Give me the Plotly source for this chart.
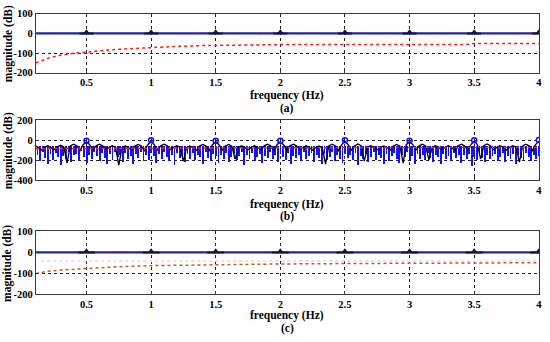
import numpy as np
import plotly.graph_objects as go

# ---------------- data ----------------
x_ticks = [0.5, 1, 1.5, 2, 2.5, 3, 3.5, 4]
x_ticktext = ["0.5", "1", "1.5", "2", "2.5", "3", "3.5", "4"]
ya_ticks = [-200, -100, 0, 100]
yb_ticks = [-400, -200, 0, 200]
yc_ticks = [-200, -100, 0, 100]

# panel (a)
a_base_f = [0.108, 4.0]
a_base_db = [0, 0]
a_peak_f = [0.5, 1.0, 1.5, 2.0, 2.5, 3.0, 3.5, 4.0]
a_peak_db = [6, 6, 6, 6, 6, 6, 6, 6]
a_red_f = [0.108, 0.15, 0.2, 0.25, 0.3, 0.4, 0.5, 0.6, 0.7, 0.8, 1.0, 1.2, 1.4, 1.6, 1.8, 2.0, 2.5, 3.0, 3.45, 3.5, 4.0]
a_red_db = [-150, -138, -127, -118, -111, -101, -94, -88, -83, -79, -72, -66, -62, -60, -58, -57, -56, -56, -56, -51, -51]

# panel (b)
b_env_f = np.round(np.arange(0.1, 4.0001, 0.025), 3)
b_env_db = [
    -55, -72, -100, -72, -55, -72, -95, -67, -50, -67, -230, -57, -40, -57, -105, -45,
    -15, -45, -100, -57, -40, -57, -95, -72, -55, -72, -250, -75, -58, -75, -100, -59, -42, -59, -110, -45,
    -12, -45, -100, -57, -40, -57, -95, -72, -55, -72, -210, -75, -58, -75, -100, -59, -42, -59, -105, -45,
    -15, -45, -100, -59, -42, -59, -190, -73, -56, -73, -95, -72, -55, -72, -100, -57, -40, -57, -105, -45,
    -14, -45, -100, -57, -40, -57, -95, -73, -56, -73, -100, -74, -57, -74, -240, -57, -40, -57, -105, -45,
    -10, -45, -100, -55, -38, -55, -210, -72, -55, -72, -95, -74, -57, -74, -100, -59, -42, -59, -230, -45,
    -12, -45, -100, -57, -40, -57, -200, -72, -55, -72, -95, -73, -56, -73, -105, -57, -40, -57, -100, -45,
    -10, -45, -190, -55, -38, -55, -95, -72, -55, -72, -100, -72, -55, -72, -220, -57, -40, -57, -105, -45,
    -10,
]
b_blue_f = np.round(np.arange(0.12, 4.0001, 0.02), 3)
b_blue_top = -62
b_blue_db = [
    -150, -210, -120, -180, -240, -140, -200, -130, -170, -250, -160, -190, -120, -220, -150,
    -140, -200, -110, -170, -230, -150, -190, -120, -160, -210, -130, -180, -240, -140, -200,
    -120, -170, -150, -220, -130, -190, -160, -240, -140, -180, -120, -210, -150, -200, -130,
    -160, -230, -140, -190, -120, -170, -210, -150, -250, -130, -180, -160, -220, -140, -190,
    -130, -200, -150, -170, -240, -120, -180, -210, -140, -160, -230, -150, -190, -130, -220,
    -170, -140, -200, -160, -120, -250, -150, -190, -130, -210, -170, -140, -230, -160, -180,
    -120, -190, -150, -220, -140, -170, -200, -130, -240, -160, -180, -150, -210, -120, -190,
    -160, -130, -220, -150, -180, -240, -140, -200, -170, -120, -210, -150, -190, -230, -140,
    -180, -150, -200, -130, -250, -160, -190, -140, -220, -170, -120, -200, -150, -180, -240,
    -140, -210, -160, -130, -190, -230, -150, -170, -120, -200, -160, -240, -140, -190, -150,
    -200, -130, -180, -220, -150, -170, -240, -140, -190, -160, -210, -130, -180, -150, -230,
    -150, -190, -140, -260, -170, -200, -130, -180, -220, -150, -190, -160, -140, -210, -170,
    -130, -220, -160, -190, -140, -240, -150, -180, -200, -130, -170, -210, -150, -190, -160,
]
b_peak_f = [0.5, 1.0, 1.5, 2.0, 2.5, 3.0, 3.5, 4.0]
b_peak_db = [-5, -2, -5, -5, 0, -5, 0, 2]
b_red_f = [0.108, 1.0, 2.0, 3.0, 4.0]
b_red_db = [-85, -78, -75, -74, -72]

# panel (c)
c_base_f = [0.108, 4.0]
c_base_db = [0, 0]
c_peak_f = [0.5, 1.0, 1.5, 2.0, 2.5, 3.0, 3.5, 4.0]
c_peak_db = [6, 6, 6, 6, 6, 6, 6, 6]
c_red_f = [0.108, 0.2, 0.3, 0.5, 0.75, 1.0, 1.5, 2.0, 2.5, 3.0, 3.5, 4.0]
c_red_db = [-100, -90, -84, -76, -68, -63, -58, -55, -53, -51, -50, -49]
c_pink_f = [0.15, 4.0]
c_pink_db = [-42, -40]

# ---------------- figure ----------------
W, H = 550, 342
fig = go.Figure()

NAVY = "#22229a"
DARK = "#141440"
FONT = "Liberation Serif, Times New Roman, serif"

# (a)
fig.add_trace(go.Scatter(x=a_red_f, y=a_red_db, mode="lines", line=dict(color="#ff1a1a", width=1.5, dash="dot"),
                         xaxis="x", yaxis="y", showlegend=False))
fig.add_trace(go.Scatter(x=a_base_f, y=a_base_db, mode="lines", line=dict(color=NAVY, width=2.2),
                         xaxis="x", yaxis="y", showlegend=False))
fig.add_trace(go.Scatter(x=a_peak_f, y=[0] * len(a_peak_f), mode="markers",
                         marker=dict(symbol="line-ew-open", size=10, color=DARK, line=dict(color=DARK, width=2)),
                         xaxis="x", yaxis="y", showlegend=False))
fig.add_trace(go.Scatter(x=a_peak_f, y=a_peak_db, mode="markers",
                         marker=dict(symbol="triangle-up", size=6, color=DARK),
                         xaxis="x", yaxis="y", showlegend=False))

# (b)
fig.add_trace(go.Bar(x=b_blue_f, y=[d - b_blue_top for d in b_blue_db], base=b_blue_top, width=0.007,
                     marker=dict(color="#1010ff", line=dict(width=0)),
                     xaxis="x2", yaxis="y2", showlegend=False))
fig.add_trace(go.Scatter(x=b_env_f, y=b_env_db, mode="lines", line=dict(color="black", width=1.3),
                         xaxis="x2", yaxis="y2", showlegend=False))
fig.add_trace(go.Scatter(x=b_red_f, y=b_red_db, mode="lines", line=dict(color="#ff2020", width=1.5, dash="dot"),
                         xaxis="x2", yaxis="y2", showlegend=False))
fig.add_trace(go.Scatter(x=b_peak_f, y=b_peak_db, mode="markers",
                         marker=dict(symbol="circle-open", size=5, color="#1010ff", line=dict(color="#1010ff", width=1.5)),
                         xaxis="x2", yaxis="y2", showlegend=False))

# (c)
fig.add_trace(go.Scatter(x=c_pink_f, y=c_pink_db, mode="lines", line=dict(color="#f9d6e0", width=2, dash="dot"),
                         xaxis="x3", yaxis="y3", showlegend=False))
fig.add_trace(go.Scatter(x=c_red_f, y=c_red_db, mode="lines", line=dict(color="#c0601a", width=1.5, dash="dot"),
                         xaxis="x3", yaxis="y3", showlegend=False))
fig.add_trace(go.Scatter(x=c_base_f, y=c_base_db, mode="lines", line=dict(color=NAVY, width=2.2),
                         xaxis="x3", yaxis="y3", showlegend=False))
fig.add_trace(go.Scatter(x=c_peak_f, y=[0] * len(c_peak_f), mode="markers",
                         marker=dict(symbol="line-ew-open", size=12, color=DARK, line=dict(color=DARK, width=2)),
                         xaxis="x3", yaxis="y3", showlegend=False))
fig.add_trace(go.Scatter(x=c_peak_f, y=c_peak_db, mode="markers",
                         marker=dict(symbol="triangle-up", size=6, color=DARK),
                         xaxis="x3", yaxis="y3", showlegend=False))

xdom = [36 / W, 542 / W]
doms = {
    "a": [1 - 70 / H, 1 - 9 / H],
    "b": [1 - 181 / H, 1 - 119 / H],
    "c": [1 - 299 / H, 1 - 234 / H],
}

tickfont = dict(family=FONT, size=10.5, color="black", weight="bold")
common_x = dict(range=[0.108, 4.002], domain=xdom, tickvals=x_ticks, ticktext=x_ticktext,
                showgrid=True, gridcolor="#222222", griddash="dot", gridwidth=1,
                showline=True, linecolor="#3a3a3a", linewidth=1, mirror=True,
                ticks="inside", ticklen=3, tickcolor="#3a3a3a", tickfont=tickfont, zeroline=False)
common_y = dict(showgrid=True, gridcolor="#222222", griddash="dot", gridwidth=1,
                showline=True, linecolor="#3a3a3a", linewidth=1, mirror=True,
                ticks="inside", ticklen=3, tickcolor="#3a3a3a", tickfont=tickfont, zeroline=False)

fig.update_layout(
    width=W, height=H, margin=dict(l=0, r=0, t=0, b=0),
    paper_bgcolor="white", plot_bgcolor="white", barmode="overlay", bargap=0,
    xaxis=dict(common_x, anchor="y"),
    yaxis=dict(common_y, anchor="x", domain=doms["a"], range=[-200, 100], tickvals=ya_ticks,
               ticktext=[str(v) for v in ya_ticks]),
    xaxis2=dict(common_x, anchor="y2"),
    yaxis2=dict(common_y, anchor="x2", domain=doms["b"], range=[-400, 200], tickvals=yb_ticks,
                ticktext=[str(v) for v in yb_ticks]),
    xaxis3=dict(common_x, anchor="y3"),
    yaxis3=dict(common_y, anchor="x3", domain=doms["c"], range=[-200, 100], tickvals=yc_ticks,
                ticktext=[str(v) for v in yc_ticks]),
)

titlefont = dict(family=FONT, size=11.5, color="black")
xc = (xdom[0] + xdom[1]) / 2
for (dom, lab, ytitle_px, ylab_px) in [
    (doms["a"], "(a)", 94, 107),
    (doms["b"], "(b)", 206, 219),
    (doms["c"], "(c)", 321, 334),
]:
    fig.add_annotation(x=xc, y=1 - ytitle_px / H, xref="paper", yref="paper", text="<b>frequency (Hz)</b>",
                       showarrow=False, font=titlefont, xanchor="center", yanchor="middle")
    fig.add_annotation(x=xc, y=1 - ylab_px / H, xref="paper", yref="paper", text=f"<b>{lab}</b>",
                       showarrow=False, font=titlefont, xanchor="center", yanchor="middle")
    fig.add_annotation(x=8 / W, y=(dom[0] + dom[1]) / 2, xref="paper", yref="paper",
                       text="<b>magnitude (dB)</b>", textangle=-90, showarrow=False, font=titlefont,
                       xanchor="center", yanchor="middle")

fig.write_html("out.html", config={"displayModeBar": False},
               post_script="document.body.style.margin='0px';document.body.style.overflow='hidden';")
